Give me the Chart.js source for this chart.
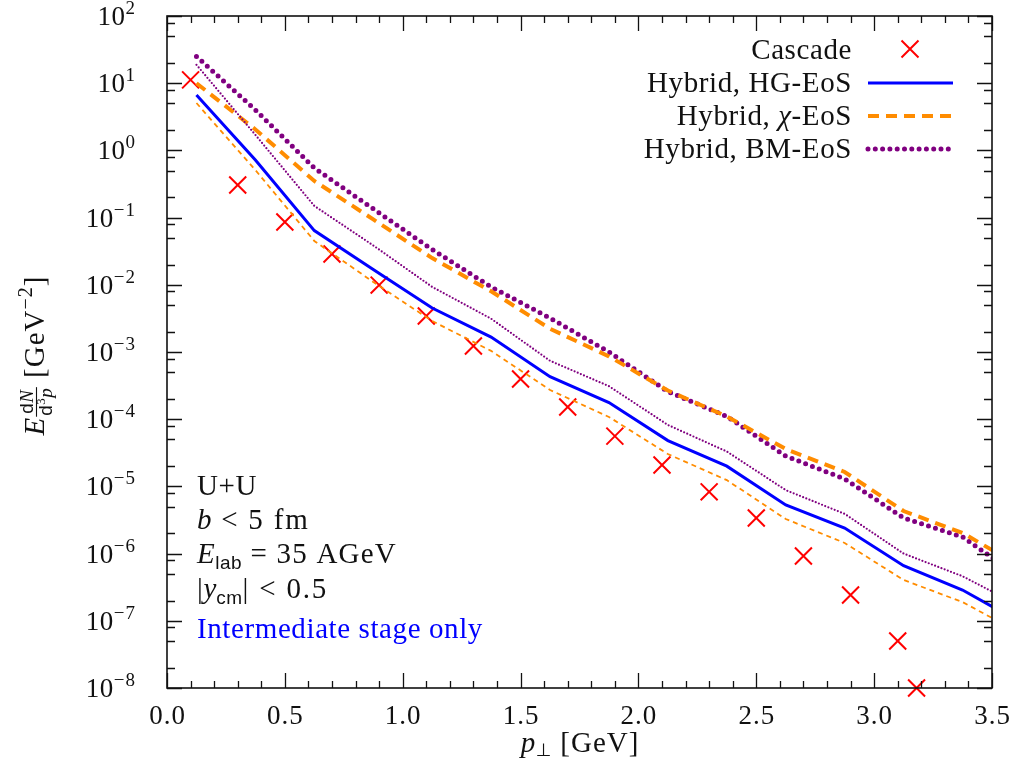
<!DOCTYPE html>
<html>
<head>
<meta charset="utf-8">
<script src="https://cdn.jsdelivr.net/npm/chart.js@4.4.0/dist/chart.umd.min.js"></script>
<style>
  html, body { margin: 0; padding: 0; background: #fff; }
  canvas { display: block; }
</style>
</head>
<body>
<canvas id="spectrum" width="1014" height="770"></canvas>
<script>
// p_T bins of the hybrid runs (GeV) - last one lies past the axis end
const ptHybrid = [0.125, 0.375, 0.625, 0.875, 1.125, 1.375, 1.625, 1.875, 2.125, 2.375, 2.625, 2.875, 3.125, 3.375, 3.625];
const hgEos = [6.7, 0.72, 0.064, 0.0169, 0.00452, 0.00167, 4.3e-4, 1.77e-4, 4.8e-5, 2.0e-5, 5.3e-6, 2.4e-6, 6.6e-7, 2.87e-7, 9.3e-8];
const chiEos = [10.0, 2.05, 0.351, 0.094, 0.025, 8.0e-3, 2.22e-3, 8.6e-4, 2.67e-4, 1.1e-4, 3.6e-5, 1.64e-5, 4.3e-6, 2.03e-6, 6.3e-7];
const bmEos = [25, 4.0, 0.547, 0.135, 0.0335, 9.3e-3, 3.2e-3, 1.0e-3, 2.58e-4, 1.1e-4, 2.83e-5, 1.29e-5, 3.4e-6, 1.77e-6, 4.3e-7];
// thin curves (intermediate stage only)
const chiEosThin = [5.07, 0.51, 0.0449, 0.0110, 2.89e-3, 1.04e-3, 2.72e-4, 1.08e-4, 3.03e-5, 1.24e-5, 3.27e-6, 1.44e-6, 4.05e-7, 1.9e-7, 6.4e-8];
const bmEosThin = [18.8, 1.70, 0.149, 0.0385, 9.3e-3, 3.13e-3, 7.4e-4, 3.1e-4, 8.2e-5, 3.3e-5, 8.8e-6, 3.9e-6, 1.0e-6, 4.6e-7, 1.62e-7];

// cascade points
const ptCascade = [0.1, 0.3, 0.5, 0.7, 0.9, 1.1, 1.3, 1.5, 1.7, 1.9, 2.1, 2.3, 2.5, 2.7, 2.9, 3.1, 3.18];
const cascade = [11.2, 0.305, 0.086, 0.0287, 0.0099, 0.00343, 0.00123, 3.96e-4, 1.52e-4, 5.6e-5, 2.08e-5, 8.3e-6, 3.39e-6, 9.2e-7, 2.42e-7, 5.0e-8, 1.0e-8];

// axis ticks
const xMajor = [0, 0.5, 1, 1.5, 2, 2.5, 3, 3.5];
const yDecades = [-8, -7, -6, -5, -4, -3, -2, -1, 0, 1, 2];
const yMinorMult = [2, 5, 8];

const BLUE = '#0000ff', ORANGE = '#ff8c00', PURPLE = '#800080', RED = '#ff0000', INK = '#111';
const SERIF = '"Liberation Serif", "DejaVu Serif", serif';
const SANS = '"Liberation Sans", "DejaVu Sans", sans-serif';
const rm = s => `${s}px ${SERIF}`;
const it = s => `italic ${s}px ${SERIF}`;
const sf = s => `${s}px ${SANS}`;
const TXT = 29;

const styles = {
    hg: { borderColor: BLUE, borderWidth: 3, borderDash: [], borderCapStyle: 'butt' },
    chi: { borderColor: ORANGE, borderWidth: 4, borderDash: [11, 7], borderCapStyle: 'butt' },
    bm: { borderColor: PURPLE, borderWidth: 5, borderDash: [0, 7.3], borderCapStyle: 'round' },
    chiThin: { borderColor: ORANGE, borderWidth: 1.8, borderDash: [5, 4], borderCapStyle: 'butt' },
    bmThin: { borderColor: PURPLE, borderWidth: 2.2, borderDash: [0, 3.4], borderCapStyle: 'round' }
};

const pairs = (xs, ys) => xs.map((x, i) => ({ x: x, y: ys[i] }));
const lineSet = (label, ys, st) => Object.assign({
    label: label, data: pairs(ptHybrid, ys), showLine: true, pointRadius: 0, fill: false, tension: 0
}, st);

// runs of text with their own font / offset, letter spacing mimics the wider TeX type
function runsWidth(ctx, runs) {
    let w = 0;
    runs.forEach(r => {
        ctx.font = r.font;
        ctx.letterSpacing = (r.ls == null ? 0.6 : r.ls) + 'px';
        w += ctx.measureText(r.text).width;
    });
    return w;
}
function drawRuns(ctx, runs, x, y, align, color) {
    const w = runsWidth(ctx, runs);
    let cx = align === 'right' ? x - w : align === 'center' ? x - w / 2 : x;
    ctx.textBaseline = 'alphabetic';
    ctx.textAlign = 'left';
    runs.forEach(r => {
        ctx.font = r.font;
        ctx.letterSpacing = (r.ls == null ? 0.6 : r.ls) + 'px';
        ctx.fillStyle = r.color || color || INK;
        ctx.fillText(r.text, cx, y + (r.dy || 0));
        cx += ctx.measureText(r.text).width;
    });
    ctx.letterSpacing = '0px';
}

// frame, inward ticks, tick labels, titles, legend, notes
const decorations = {
    id: 'decorations',
    afterDraw(chart) {
        const ctx = chart.ctx, a = chart.chartArea;
        const xs = chart.scales.x, ys = chart.scales.y;
        ctx.save();
        ctx.strokeStyle = INK;
        ctx.setLineDash([]);

        ctx.lineWidth = 1.3;
        ctx.beginPath();
        for (let v = 0; v <= 3.5001; v += 0.1) {
            const px = Math.round(xs.getPixelForValue(v)) + 0.5;
            const major = Math.abs(v * 2 - Math.round(v * 2)) < 1e-6;
            const len = major ? 15 : 7;
            ctx.moveTo(px, a.bottom); ctx.lineTo(px, a.bottom - len);
            ctx.moveTo(px, a.top); ctx.lineTo(px, a.top + len);
        }
        yDecades.forEach(k => {
            const py = Math.round(ys.getPixelForValue(Math.pow(10, k))) + 0.5;
            ctx.moveTo(a.left, py); ctx.lineTo(a.left + 15, py);
            ctx.moveTo(a.right, py); ctx.lineTo(a.right - 15, py);
            if (k < 2) yMinorMult.forEach(m => {
                const pm = Math.round(ys.getPixelForValue(m * Math.pow(10, k))) + 0.5;
                ctx.moveTo(a.left, pm); ctx.lineTo(a.left + 8, pm);
                ctx.moveTo(a.right, pm); ctx.lineTo(a.right - 8, pm);
            });
        });
        ctx.stroke();

        ctx.lineWidth = 1.6;
        ctx.strokeRect(a.left, a.top, a.right - a.left, a.bottom - a.top);

        // tick labels
        xMajor.forEach(v => {
            drawRuns(ctx, [{ text: v.toFixed(1), font: rm(27), ls: 1 }], xs.getPixelForValue(v) + 0.5, 724, 'center');
        });
        yDecades.forEach(k => {
            const py = ys.getPixelForValue(Math.pow(10, k));
            const sup = k < 0 ? '\u2212' + (-k) : String(k);
            drawRuns(ctx, [{ text: '10', font: rm(27), ls: 0.5 }, { text: sup, font: rm(19), dy: -11, ls: 1 }], 136, py + 9, 'right');
        });

        // x title
        drawRuns(ctx, [
            { text: 'p', font: it(TXT) },
            { text: '\u22a5', font: sf(18), dy: 4 },
            { text: ' [GeV]', font: rm(TXT), ls: 1 }
        ], 580, 752, 'center');

        // y title, rotated
        ctx.save();
        ctx.translate(44, 356);
        ctx.rotate(-Math.PI / 2);
        const num = [{ text: 'd', font: sf(19), ls: 0.5 }, { text: 'N', font: it(19), ls: 0 }];
        const den = [{ text: 'd', font: sf(19), ls: 0.5 }, { text: '3', font: rm(13), dy: -7, ls: 0.5 }, { text: 'p', font: it(19), ls: 0 }];
        const tail = [{ text: ' [GeV', font: rm(TXT), ls: 1 }, { text: '\u22122', font: rm(20), dy: -12, ls: 1 }, { text: ']', font: rm(TXT), ls: 0 }];
        const eW = runsWidth(ctx, [{ text: 'E', font: it(TXT), ls: 0 }]);
        const fracW = Math.max(runsWidth(ctx, num), runsWidth(ctx, den)) + 4;
        const tailW = runsWidth(ctx, tail);
        let x0 = -(eW + fracW + tailW) / 2;
        drawRuns(ctx, [{ text: 'E', font: it(TXT), ls: 0 }], x0, 0, 'left');
        x0 += eW;
        drawRuns(ctx, num, x0 + fracW / 2, -11, 'center');
        drawRuns(ctx, den, x0 + fracW / 2, 8, 'center');
        ctx.lineWidth = 1.1;
        ctx.beginPath(); ctx.moveTo(x0 + 1, -7.5); ctx.lineTo(x0 + fracW - 1, -7.5); ctx.stroke();
        x0 += fracW;
        drawRuns(ctx, tail, x0, 0, 'left');
        ctx.restore();

        // legend
        const lx = 852, sx0 = 868, sx1 = 953;
        drawRuns(ctx, [{ text: 'Cascade', font: rm(TXT) }], lx, 59, 'right');
        ctx.strokeStyle = RED; ctx.lineWidth = 2; ctx.setLineDash([]);
        ctx.beginPath();
        ctx.moveTo(910 - 8.5, 49 - 8.5); ctx.lineTo(910 + 8.5, 49 + 8.5);
        ctx.moveTo(910 - 8.5, 49 + 8.5); ctx.lineTo(910 + 8.5, 49 - 8.5);
        ctx.stroke();
        const legendRows = [
            { runs: [{ text: 'Hybrid, HG-EoS', font: rm(TXT) }], st: styles.hg, y: 92 },
            { runs: [{ text: 'Hybrid, ', font: rm(TXT) }, { text: '\u03c7', font: it(TXT) }, { text: '-EoS', font: rm(TXT) }], st: styles.chi, y: 125 },
            { runs: [{ text: 'Hybrid, BM-EoS', font: rm(TXT) }], st: styles.bm, y: 158 }
        ];
        legendRows.forEach(row => {
            drawRuns(ctx, row.runs, lx, row.y, 'right');
            ctx.strokeStyle = row.st.borderColor;
            ctx.lineWidth = row.st.borderWidth;
            ctx.lineCap = row.st.borderCapStyle;
            ctx.setLineDash(row.st.borderDash);
            ctx.beginPath();
            ctx.moveTo(sx0, row.y - 9); ctx.lineTo(sx1, row.y - 9);
            ctx.stroke();
        });
        ctx.setLineDash([]);
        ctx.lineCap = 'butt';

        // notes
        const nx = 197;
        drawRuns(ctx, [{ text: 'U+U', font: rm(TXT) }], nx, 495, 'left');
        drawRuns(ctx, [{ text: 'b', font: it(TXT) }, { text: ' < 5 fm', font: rm(TXT), ls: 1.8 }], nx, 529, 'left');
        drawRuns(ctx, [{ text: 'E', font: it(TXT) }, { text: 'lab', font: sf(19), dy: 6, ls: 0.5 }, { text: ' = 35 AGeV', font: rm(TXT), ls: 1.2 }], nx, 563, 'left');
        drawRuns(ctx, [{ text: '|', font: rm(TXT) }, { text: 'y', font: it(TXT), ls: 0 }, { text: 'cm', font: sf(19), dy: 6, ls: 0.5 }, { text: '| < 0.5', font: rm(TXT), ls: 1.8 }], nx, 598, 'left');
        drawRuns(ctx, [{ text: 'Intermediate stage only', font: rm(TXT) }], nx, 638, 'left', BLUE);
        ctx.restore();
    }
};

const ctx = document.getElementById('spectrum');
new Chart(ctx, {
    type: 'scatter',
    data: {
        datasets: [
            lineSet('Hybrid, \u03c7-EoS (intermediate)', chiEosThin, styles.chiThin),
            lineSet('Hybrid, BM-EoS (intermediate)', bmEosThin, styles.bmThin),
            lineSet('Hybrid, HG-EoS', hgEos, styles.hg),
            lineSet('Hybrid, \u03c7-EoS', chiEos, styles.chi),
            lineSet('Hybrid, BM-EoS', bmEos, styles.bm),
            {
                label: 'Cascade', data: pairs(ptCascade, cascade), showLine: false,
                pointStyle: 'crossRot', pointRadius: 12, pointBorderWidth: 2,
                pointBorderColor: RED, pointBackgroundColor: RED, borderColor: RED, clip: false
            }
        ]
    },
    options: {
        responsive: false,
        animation: false,
        devicePixelRatio: 1,
        layout: { padding: { top: 16, right: 22, left: 0, bottom: 0 } },
        plugins: { legend: { display: false }, tooltip: { enabled: false } },
        scales: {
            x: {
                type: 'linear', min: 0, max: 3.5,
                grid: { display: false }, border: { display: false },
                ticks: { display: false },
                afterFit: s => { s.height = 82; }
            },
            y: {
                type: 'logarithmic', min: 1e-8, max: 1e2,
                grid: { display: false }, border: { display: false },
                ticks: { display: false },
                afterFit: s => { s.width = 167; }
            }
        }
    },
    plugins: [decorations]
});
</script>
</body>
</html>
